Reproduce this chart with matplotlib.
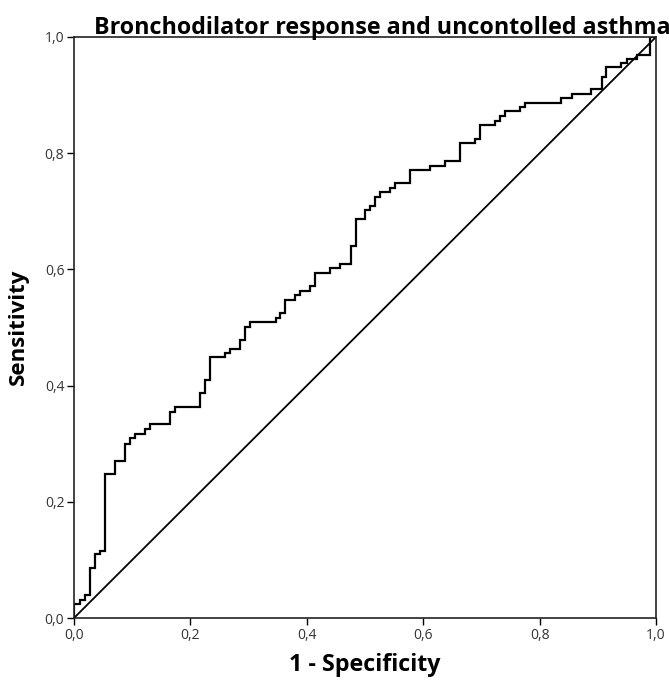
import matplotlib
matplotlib.use("Agg")
import matplotlib.pyplot as plt
from matplotlib.ticker import FuncFormatter, MultipleLocator

# ROC curve vertices (1 - specificity, sensitivity): top of each vertical step
fpr = [0.0, 0.0, 0.010, 0.019, 0.027, 0.036, 0.045, 0.053, 0.070, 0.088, 0.096,
       0.105, 0.122, 0.131, 0.165, 0.174, 0.216, 0.225, 0.234, 0.259, 0.268,
       0.285, 0.294, 0.302, 0.347, 0.354, 0.363, 0.380, 0.388, 0.405, 0.414,
       0.440, 0.457, 0.476, 0.484, 0.500, 0.509, 0.517, 0.526, 0.543, 0.552,
       0.577, 0.612, 0.637, 0.663, 0.689, 0.698, 0.723, 0.732, 0.741, 0.766,
       0.775, 0.837, 0.856, 0.889, 0.907, 0.914, 0.940, 0.950, 0.967, 0.990, 1.0]
tpr = [0.0, 0.024, 0.031, 0.040, 0.086, 0.110, 0.116, 0.248, 0.270, 0.300, 0.310,
       0.317, 0.325, 0.334, 0.355, 0.363, 0.387, 0.410, 0.449, 0.456, 0.463,
       0.478, 0.501, 0.509, 0.517, 0.525, 0.547, 0.556, 0.563, 0.571, 0.594,
       0.602, 0.609, 0.640, 0.687, 0.702, 0.709, 0.725, 0.733, 0.740, 0.749,
       0.771, 0.778, 0.787, 0.818, 0.824, 0.849, 0.855, 0.864, 0.873, 0.880,
       0.886, 0.895, 0.902, 0.910, 0.931, 0.948, 0.955, 0.962, 0.969, 1.0, 1.0]
ref_line = [0.0, 1.0]

title = "Bronchodilator response and uncontolled asthma"
xlabel = "1 - Specificity"
ylabel = "Sensitivity"

W, H = 669, 680
fig = plt.figure(figsize=(W/100, H/100), dpi=100)
ax = fig.add_axes([74/W, 62/H, 582/W, 581/H])

ax.plot(fpr, tpr, drawstyle="steps-post", color="black", lw=1.6, solid_joinstyle="miter")
ax.plot(ref_line, ref_line, color="black", lw=1.3)

ax.set_xlim(0, 1)
ax.set_ylim(0, 1)
ax.xaxis.set_major_locator(MultipleLocator(0.2))
ax.yaxis.set_major_locator(MultipleLocator(0.2))
fmt = FuncFormatter(lambda v, p: f"{v:.1f}".replace(".", ","))
ax.xaxis.set_major_formatter(fmt)
ax.yaxis.set_major_formatter(fmt)
ax.tick_params(direction="out", length=5, width=1, labelsize=10, labelcolor="#333333",
               top=False, right=False, pad=2)
for lab in ax.get_xticklabels() + ax.get_yticklabels():
    lab.set_fontfamily("Open Sans")
for s in ax.spines.values():
    s.set_linewidth(1.2)
    s.set_color("#222222")

renderer = fig.canvas.get_renderer()

def fitted_text(xpx, ypx, s, target, rotation=0, weight="bold"):
    t = fig.text(xpx/W, 1 - ypx/H, s, ha="center", va="center", rotation=rotation,
                 fontsize=13, fontweight=weight, family="Open Sans")
    bb = t.get_window_extent(renderer)
    length = bb.height if rotation else bb.width
    t.set_fontsize(13 * target / length)
    return t

fitted_text(382, 28, title, 571)
fitted_text(365, 665, xlabel, 150)
fitted_text(18, 327, ylabel, 115, rotation=90)

fig.savefig("out.png", dpi=100)
